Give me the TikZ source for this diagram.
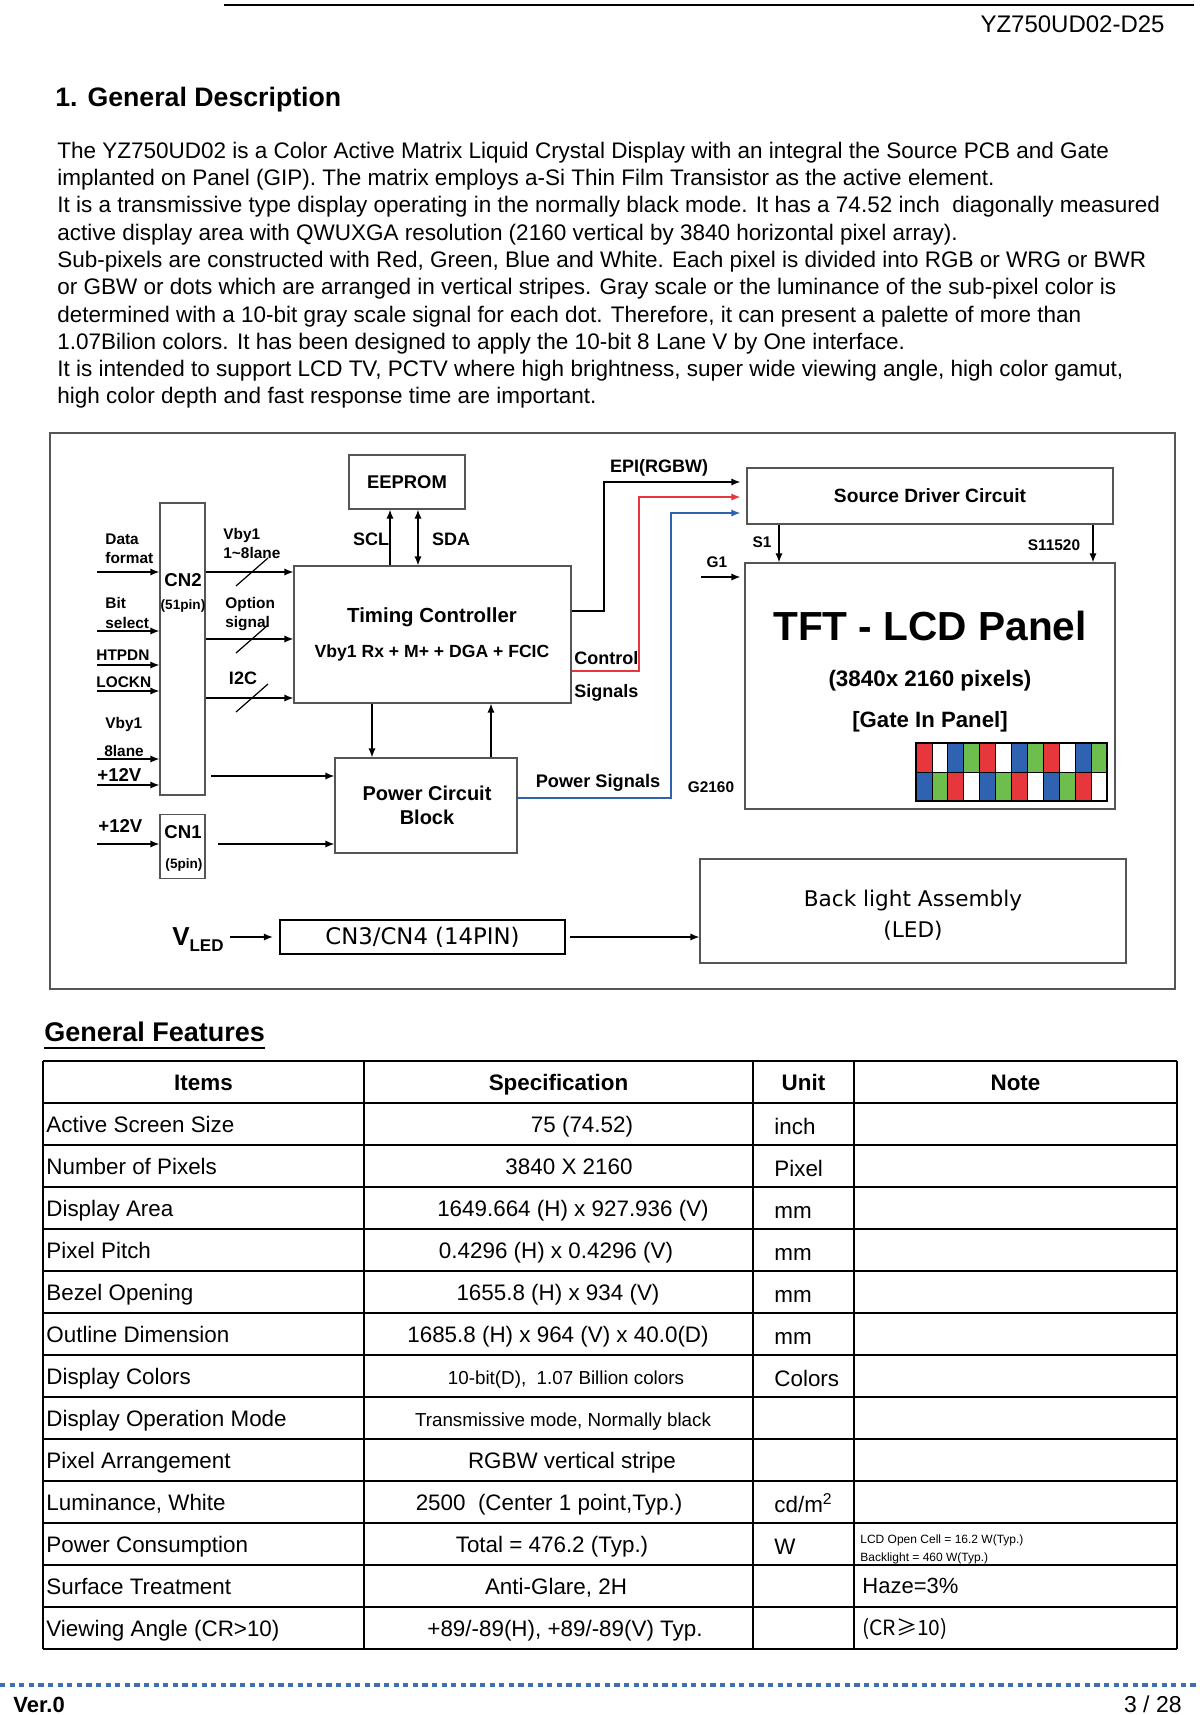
\documentclass[tikz,border=0pt]{standalone}
\usepackage{fontspec}
\setmainfont{Liberation Sans}
\newfontfamily\tahoma{DejaVu Sans}
\newfontfamily\cjk{Noto Sans CJK SC}
\usetikzlibrary{arrows.meta, calc}
\definecolor{cred}{HTML}{E8363D}
\definecolor{cgreen}{HTML}{6DBE4C}
\definecolor{cblue}{HTML}{2F62B0}
\definecolor{cdots}{HTML}{3D6FB6}
\definecolor{cgray}{HTML}{555555}

\begin{document}
\begin{tikzpicture}[x=0.5pt, y=-0.5pt,
    txt/.style={inner sep=0pt, anchor=mid west, yshift=-1.6pt},
    box/.style={draw=cgray, line width=0.6pt, inner sep=0pt},
    arr/.style={-{Latex[length=4.5pt,width=3.6pt]}, line width=0.7pt},
    lbs/.style={inner sep=0pt, anchor=mid, font=\bfseries\fontsize{7.7}{9}\selectfont},
    lbm/.style={inner sep=0pt, anchor=mid, font=\bfseries\fontsize{9}{11}\selectfont},
    cell/.style={inner sep=0pt, yshift=-1.4pt, font=\fontsize{11.2}{13}\selectfont}]
  \useasboundingbox (0,0) rectangle (1200,1715);
  \fill[white] (0,0) rectangle (1200,1715);

  % Header
  \draw[line width=1pt] (224,5) -- (1194,5);
  \node[txt, anchor=mid east, font=\fontsize{12}{14}\selectfont] (docid) at (1165,24) {YZ750UD02-D25};
  \node[txt, font=\bfseries\fontsize{13.35}{15}\selectfont] (title) at (55,98) {1. General Description};

  % Description text
  \begin{scope}[font=\fontsize{11.25}{13}\selectfont]
    \node[txt] (p1) at (57,150) {The YZ750UD02 is a Color Active Matrix Liquid Crystal Display with an integral the Source PCB and Gate};
    \node[txt] (p2) at (57,177) {implanted on Panel (GIP). The matrix employs a-Si Thin Film Transistor as the active element.};
    \node[txt] (p3) at (57,204.5) {It is a transmissive type display operating in the normally black mode. It has a 74.52 inch\ \ diagonally measured};
    \node[txt] (p4) at (57,232) {active display area with QWUXGA resolution (2160 vertical by 3840 horizontal pixel array).};
    \node[txt] (p5) at (57,259) {Sub-pixels are constructed with Red, Green, Blue and White. Each pixel is divided into RGB or WRG or BWR};
    \node[txt] (p6) at (57,286.5) {or GBW or dots which are arranged in vertical stripes. Gray scale or the luminance of the sub-pixel color is};
    \node[txt] (p7) at (57,314) {determined with a 10-bit gray scale signal for each dot. Therefore, it can present a palette of more than};
    \node[txt] (p8) at (57,341) {1.07Bilion colors. It has been designed to apply the 10-bit 8 Lane V by One interface.};
    \node[txt] (p9) at (57,368.5) {It is intended to support LCD TV, PCTV where high brightness, super wide viewing angle, high color gamut,};
    \node[txt] (p10) at (57,395) {high color depth and fast response time are important.};
  \end{scope}

  % Block diagram frame
  \draw[cgray, line width=0.9pt] (50,433) rectangle (1175,989);

  % Boxes
  \node[box, minimum width=58pt, minimum height=27pt, font=\bfseries\fontsize{9.2}{11}\selectfont] (eeprom) at (407,482) {EEPROM};
  \node[box, minimum width=138.5pt, minimum height=68.5pt] (tc) at (432.5,634.5) {};
  \node[box, minimum width=22.5pt, minimum height=146pt] (cn2) at (182.5,649) {};
  \node[box, minimum width=22.5pt, minimum height=32pt] (cn1) at (182.5,846.5) {};
  \node[box, minimum width=91pt, minimum height=47.5pt] (pcb) at (426,805.5) {};
  \node[box, minimum width=183pt, minimum height=28pt, font=\bfseries\fontsize{9.6}{11}\selectfont] (sdc) at (930,496) {Source Driver Circuit};
  \node[box, minimum width=185pt, minimum height=123pt] (panel) at (930,686) {};
  \node[box, minimum width=213pt, minimum height=52pt] (blu) at (913,911) {};
  \node[draw=black, line width=1.1pt, inner sep=0pt, minimum width=142.5pt, minimum height=17pt,
        font=\tahoma\fontsize{11.4}{14}\selectfont] (cn34) at (422.5,937) {CN3/CN4 (14PIN)};

  % Box texts
  \node[lbm, font=\bfseries\fontsize{10.2}{12}\selectfont] (tcname) at (432,617) {Timing Controller};
  \node[lbm, font=\bfseries\fontsize{8.8}{10}\selectfont] (tcsub) at (432,652) {Vby1 Rx + M+ + DGA + FCIC};
  \node[lbm, font=\bfseries\fontsize{9.3}{11}\selectfont] (cn2name) at (183,581) {CN2};
  \node[lbs, font=\bfseries\fontsize{6.8}{8}\selectfont] (cn2pin) at (183,604) {(51pin)};
  \node[lbm, font=\bfseries\fontsize{9.3}{11}\selectfont] (cn1name) at (183,833) {CN1};
  \node[lbs, font=\bfseries\fontsize{6.8}{8}\selectfont] (cn1pin) at (184,863) {(5pin)};
  \node[lbm, font=\bfseries\fontsize{10}{12}\selectfont] (pcbname) at (427,795) {Power Circuit};
  \node[lbm, font=\bfseries\fontsize{10}{12}\selectfont] (pcbsub) at (427,819) {Block};
  \node[lbm, font=\bfseries\fontsize{20.3}{24}\selectfont] (tftname) at (930,635) {TFT - LCD Panel};
  \node[lbm, font=\bfseries\fontsize{11.2}{13}\selectfont] (tftres) at (930,681) {(3840x 2160 pixels)};
  \node[lbm, font=\bfseries\fontsize{11.1}{13}\selectfont] (tftgip) at (930,722) {[Gate In Panel]};
  \node[inner sep=0pt, anchor=mid, font=\tahoma\fontsize{10.8}{12}\selectfont] (bluname) at (913,901) {Back light Assembly};
  \node[inner sep=0pt, anchor=mid, font=\tahoma\fontsize{10.8}{12}\selectfont] (blusub) at (913,932) {(LED)};

  % Sub-pixel stripes
  \foreach \c [count=\i from 0] in {cred,white,cblue,cgreen,cred,white,cblue,cgreen,cred,white,cblue,cgreen}
    \filldraw[fill=\c, draw=black, line width=0.4pt] ({916+15.9*\i},743) rectangle ++(15.9,29);
  \foreach \c [count=\i from 0] in {cblue,cgreen,cred,white,cblue,cgreen,cred,white,cblue,cgreen,cred,white}
    \filldraw[fill=\c, draw=black, line width=0.4pt] ({916+15.9*\i},772) rectangle ++(15.9,29);
  \draw[line width=0.9pt] (916,743) rectangle ++(190.8,58);

  % Inputs on the left
  \node[lbs, anchor=mid west] (ldata) at (105,539) {Data};
  \node[lbs, anchor=mid west] (lfmt) at (105,558) {format};
  \node[lbs, anchor=mid west] (lbit) at (105,603) {Bit};
  \node[lbs, anchor=mid west] (lsel) at (105,623) {select};
  \node[lbs, anchor=mid west] (lhtp) at (96,655) {HTPDN};
  \node[lbs, anchor=mid west] (llck) at (96,682) {LOCKN};
  \node[lbs, anchor=mid west] (lvby) at (105,723) {Vby1};
  \node[lbs, anchor=mid west] (llane) at (104,751) {8lane};
  \node[lbm, anchor=mid west, font=\bfseries\fontsize{9.3}{11}\selectfont] (lpwr) at (97,776) {+12V};
  \node[lbm, anchor=mid west, font=\bfseries\fontsize{9.3}{11}\selectfont] (lpwrb) at (98,827) {+12V};
  \foreach \y in {572,631,665,691,759,785}
    \draw[arr] (97,\y) -- (cn2.west |- 0,\y);
  \draw[arr] (97,844) -- (cn1.west |- 0,844);

  % CN2 to timing controller
  \node[lbs, anchor=mid west] (lvbyr) at (223,534) {Vby1};
  \node[lbs, anchor=mid west] (llaner) at (223,553) {1\textasciitilde 8lane};
  \node[lbs, anchor=mid west] (lopt) at (225,603) {Option};
  \node[lbs, anchor=mid west] (lsig) at (225,622) {signal};
  \node[lbm] (li2c) at (243,679) {I2C};
  \foreach \y in {572,639,698}{
    \draw[arr] (cn2.east |- 0,\y) -- (tc.west |- 0,\y);
    \draw[line width=0.6pt] (236,{\y+14}) -- (268,{\y-14});
  }
  \draw[arr] (211,776) -- (pcb.west |- 0,776);
  \draw[arr] (218,844) -- (pcb.west |- 0,844);

  % EEPROM bus
  \node[lbm] (lscl) at (371,540) {SCL};
  \node[lbm] (lsda) at (451,540) {SDA};
  \draw[arr] (tc.north -| 390,0) -- (eeprom.south -| 390,0);
  \draw[arr, {Latex[length=4.5pt,width=3.6pt]}-{Latex[length=4.5pt,width=3.6pt]}] (tc.north -| 418,0) -- (eeprom.south -| 418,0);

  % Timing controller and power block
  \draw[arr] (tc.south -| 372,0) -- (pcb.north -| 372,0);
  \draw[arr] (pcb.north -| 491,0) -- (tc.south -| 491,0);

  % Signals to the source driver
  \node[lbm] (lepi) at (659,467) {EPI(RGBW)};
  \node[lbm, anchor=mid west] (lctl) at (574,659) {Control};
  \node[lbm, anchor=mid west] (lctls) at (574,692) {Signals};
  \node[lbm, font=\bfseries\fontsize{9.1}{11}\selectfont] (lpws) at (598,782) {Power Signals};
  \draw[arr, shorten >=3pt] (tc.east |- 0,611) -- (604,611) -- (604,482) -- (sdc.west |- 0,482);
  \draw[arr, cred, shorten >=3pt] (tc.east |- 0,671) -- (639,671) -- (639,497) -- (sdc.west |- 0,497);
  \draw[arr, cblue, shorten >=3pt] (pcb.east |- 0,798) -- (671,798) -- (671,513) -- (sdc.west |- 0,513);

  % Source and gate lines
  \node[lbs] (ls1) at (762,542) {S1};
  \node[lbs] (lsn) at (1054,545) {S11520};
  \node[lbs] (lg1) at (717,562) {G1};
  \node[lbs] (lgn) at (711,787) {G2160};
  \draw[arr] (sdc.south -| 779,0) -- (panel.north -| 779,0);
  \draw[arr] (sdc.south -| 1093,0) -- (panel.north -| 1093,0);
  \draw[arr, shorten >=2pt] (701,577) -- (panel.west |- 0,577);

  % LED supply
  \node[inner sep=0pt, anchor=mid east, yshift=-1.6pt, font=\bfseries\fontsize{13}{15}\selectfont] (vled) at (224,937)
    {V\raisebox{-3pt}{\fontsize{8.5}{10}\selectfont LED}};
  \draw[arr, shorten <=3pt, shorten >=3pt] (vled.east |- cn34.west) -- (cn34.west);
  \draw[arr, shorten <=2pt] (cn34.east) -- (blu.west |- cn34.east);

  % General features table
  \node[txt, font=\bfseries\fontsize{13.5}{15}\selectfont] (feat) at (44,1033) {General Features};
  \draw[line width=1pt] ($(feat.base west)+(0,6)$) -- ($(feat.base east)+(0,6)$);
  \foreach \r in {0,...,14}
    \draw[line width=0.65pt] (43,{1061+42*\r}) -- (1177,{1061+42*\r});
  \foreach \c in {43,364,753,854,1177}
    \draw[line width=0.65pt] (\c,1061) -- (\c,1649);
  \node[cell, anchor=mid, font=\bfseries\fontsize{11.2}{13}\selectfont] (hitem) at (203.5,1082) {Items};
  \node[cell, anchor=mid, font=\bfseries\fontsize{11.2}{13}\selectfont] (hspec) at (558.5,1082) {Specification};
  \node[cell, anchor=mid, font=\bfseries\fontsize{11.2}{13}\selectfont] (hunit) at (803.5,1082) {Unit};
  \node[cell, anchor=mid, font=\bfseries\fontsize{11.2}{13}\selectfont] (hnote) at (1015.5,1082) {Note};
  \foreach \r/\item/\spec/\sx/\unit in {
      1/Active Screen Size/75 (74.52)/582/inch,
      2/Number of Pixels/3840 X 2160/569/Pixel,
      3/Display Area/1649.664 (H) x 927.936 (V)/573/mm,
      4/Pixel Pitch/0.4296 (H) x 0.4296 (V)/556/mm,
      5/Bezel Opening/1655.8 (H) x 934 (V)/558/mm,
      6/Outline Dimension/1685.8 (H) x 964 (V) x 40.0(D)/558/mm,
      7/Display Colors/{}/566/Colors,
      8/Display Operation Mode/{}/563/{},
      9/Pixel Arrangement/RGBW vertical stripe/572/{},
      10/{Luminance, White}/{2500\ \ (Center 1 point,Typ.)}/549/{cd/m\textsuperscript{2}},
      11/Power Consumption/Total = 476.2 (Typ.)/552/W,
      12/Surface Treatment/{Anti-Glare, 2H}/556/{},
      13/Viewing Angle (CR>10)/{+89/-89(H), +89/-89(V) Typ.}/565/{}}{
    \node[cell, anchor=mid west] (item\r) at (46,{1082+42*\r}) {\item};
    \node[cell, anchor=mid] (spec\r) at (\sx,{1082+42*\r}) {\spec};
    \node[cell, anchor=mid west] (unit\r) at (774,{1084+42*\r}) {\unit};
  }
  \node[cell, anchor=mid, font=\fontsize{9.4}{11}\selectfont] (spec7b) at (566,1376) {10-bit(D),\ \ 1.07 Billion colors};
  \node[cell, anchor=mid, font=\fontsize{9.4}{11}\selectfont] (spec8b) at (563,1418) {Transmissive mode, Normally black};
  \node[cell, anchor=mid west, font=\fontsize{6}{7}\selectfont] (note11a) at (860,1535) {LCD Open Cell = 16.2 W(Typ.)};
  \node[cell, anchor=mid west, font=\fontsize{6}{7}\selectfont] (note11b) at (860,1553) {Backlight = 460 W(Typ.)};
  \node[cell, anchor=mid west, font=\fontsize{11}{13}\selectfont] (note12) at (862,1585) {Haze=3\%};
  \node[cell, anchor=mid west, font=\cjk\fontsize{10.5}{12}\selectfont] (note13) at (862,1627) {(CR≥10)};

  % Footer
  \draw[cdots, line width=2.2pt, dash pattern=on 2.6pt off 2.2pt] (0,1685) -- (1200,1685);
  \node[txt, font=\bfseries\fontsize{11}{13}\selectfont] (ver) at (13,1704) {Ver.0};
  \node[txt, anchor=mid east, font=\fontsize{11.5}{13}\selectfont] (pageno) at (1182,1704) {3 / 28};
\end{tikzpicture}
\end{document}
